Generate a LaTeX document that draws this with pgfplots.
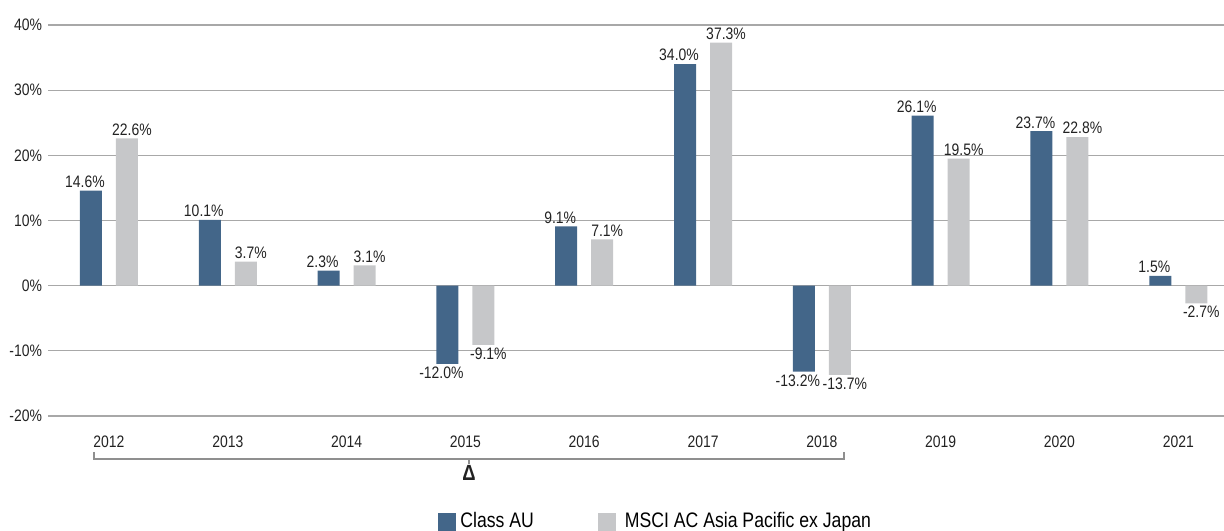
\documentclass[border=0pt]{standalone}
\usepackage{pgfplots}
\pgfplotsset{compat=1.18}
\usepackage{fontspec}
\setmainfont{Liberation Sans}[FakeStretch=0.84]
\definecolor{cau}{HTML}{436689}
\definecolor{msci}{HTML}{C6C7C9}
\definecolor{gridc}{HTML}{A8A8A8}
\definecolor{txt}{HTML}{222222}
\begin{document}
\begin{tikzpicture}
\useasboundingbox (0,0) rectangle (612pt,265pt);
\begin{axis}[
  at={(24pt,57pt)}, anchor=south west,
  scale only axis, width=588pt, height=195.5pt,
  ybar, bar width=11pt,
  xmin=-0.513, xmax=9.385, ymin=-20, ymax=40,
  ytick={-20,-10,...,40},
  xtick={0,...,9},
  xticklabels={2012,2013,2014,2015,2016,2017,2018,2019,2020,2021},
  axis line style={draw=none}, major tick style={draw=none},
  ymajorgrids, grid style={gridc, line width=0.6pt},
  /pgf/number format/assume math mode=true,
  yticklabel={\pgfmathprintnumber{\tick}\%},
  ticklabel style={font=\fontsize{8.3}{10}\selectfont, text=txt},
  xticklabel style={yshift=-2pt},
  yticklabel style={xshift=0.5pt},
  clip=false,
  nodes near coords={\pgfmathprintnumber[fixed,fixed zerofill,precision=1,assume math mode=true]{\pgfplotspointmeta}\%},
  nodes near coords align=vertical,
  every node near coord/.append style={font=\fontsize{8.3}{10}\selectfont, text=txt, inner sep=1.3pt},
  legend style={at={(axis description cs:0.3316,-0.236)}, anchor=north west,
    draw=none, fill=none, inner sep=0pt, font=\fontsize{10.5}{12}\selectfont,
    legend columns=2,
    /tikz/every even column/.append style={column sep=30pt}},
  legend cell align=left,
  legend image code/.code={\fill[#1] (0pt,-4.5pt) rectangle (9pt,4.5pt);},
]
\addplot[fill=cau, draw=none, bar shift=-9pt, every node near coord/.append style={xshift=-3pt}] coordinates {(0,14.6) (1,10.1) (2,2.3) (3,-12.0) (4,9.1) (5,34.0) (6,-13.2) (7,26.1) (8,23.7) (9,1.5)};
\addplot[fill=msci, draw=none, bar shift=9pt, every node near coord/.append style={xshift=2.5pt}] coordinates {(0,22.6) (1,3.7) (2,3.1) (3,-9.1) (4,7.1) (5,37.3) (6,-13.7) (7,19.5) (8,22.8) (9,-2.7)};
\legend{Class AU, \hspace{2.5pt}MSCI AC Asia Pacific ex Japan}
\draw[gridc!85!black, line width=0.6pt] (axis cs:-0.126,-25.5) -- (axis cs:-0.126,-26.6) -- (axis cs:6.187,-26.6) -- (axis cs:6.187,-25.5);
\draw[gridc!85!black, line width=0.6pt] (axis cs:3.03,-26.6) -- (axis cs:3.03,-27.3);
\node[font=\bfseries\fontsize{11}{12}\selectfont, text=txt, inner sep=0pt] at (axis cs:3.03,-28.8) {Δ};
\end{axis}
\end{tikzpicture}
\end{document}
